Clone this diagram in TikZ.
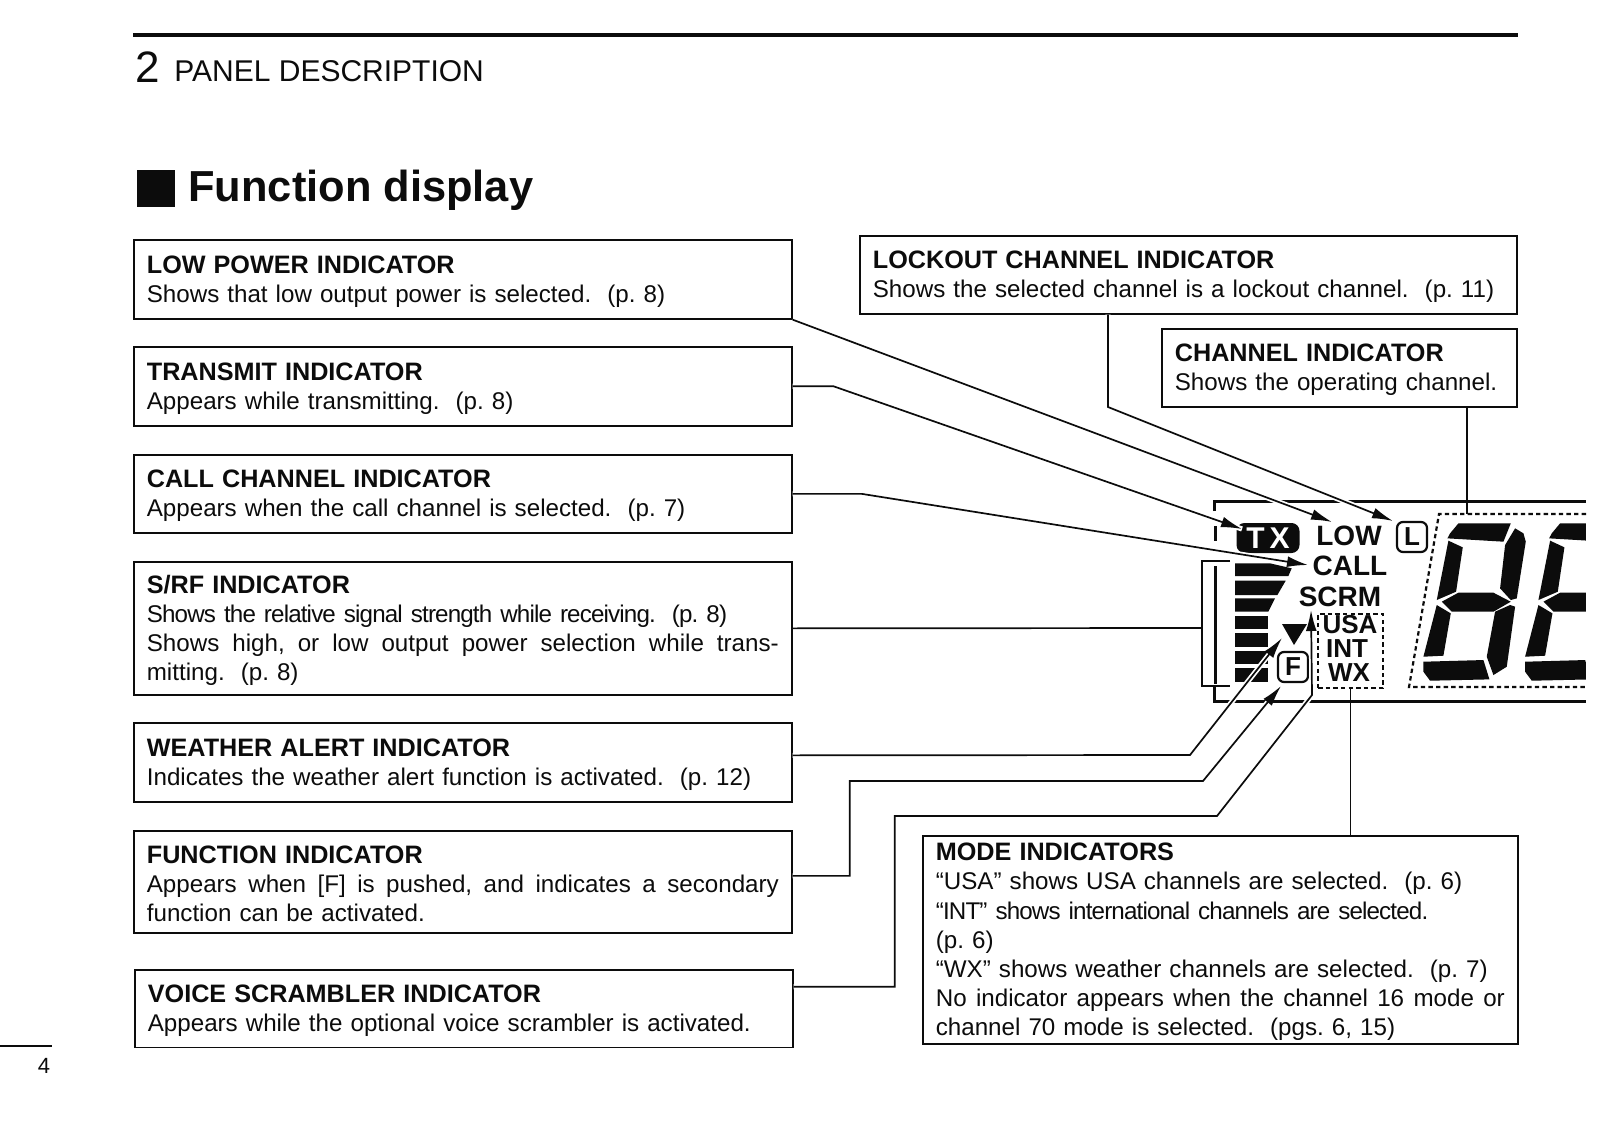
\documentclass[tikz,border=0pt]{standalone}
\usepackage{fontspec}
\setmainfont{Liberation Sans}
\usetikzlibrary{arrows.meta,positioning,shapes,calc}
\definecolor{ink}{HTML}{0C0C0C}
\definecolor{paper}{HTML}{FFFFFF}
\tikzset{
  infobox/.style={
    draw=ink, fill=paper, line width=0.85pt, anchor=north west,
    text width=#1, align=left, inner xsep=6.5pt, inner ysep=0pt,
    text=ink, font=\fontsize{12.08}{14.6}\selectfont\frenchspacing
  },
  conn/.style={draw=ink, line width=0.85pt},
  tipconn/.style={conn, -{Latex[length=10.5pt,width=5.4pt]},
    preaction={draw=paper, line width=2.6pt, arrows=-}},
  lcdlabel/.style={
    text=ink, inner sep=0pt, font=\bfseries\fontsize{14}{14}\selectfont
  },
  modelabel/.style={
    text=ink, inner sep=0pt, font=\bfseries\fontsize{13}{13}\selectfont
  },
  framebit/.style={draw=ink, line width=1.5pt},
  dotbox/.style={draw=ink, line width=1.1pt, dash pattern=on 2.2pt off 1.6pt},
  keycap/.style={
    draw=ink, line width=1.1pt, rounded corners=3pt, minimum size=15pt,
    inner sep=0pt, text=ink, font=\bfseries\fontsize{13}{13}\selectfont
  },
  seg/.style={fill=ink, draw=none}
}
\newcommand{\fullline}[2]{\leavevmode\hbox to #1{\spaceskip=0pt\xspaceskip=0pt #2}}
\newcommand{\boxhead}[1]{{\fontsize{12.6}{14.6}\selectfont\bfseries\rule{0pt}{11pt}#1}}
\newcommand{\tightline}[1]{{\addfontfeature{LetterSpace=-3.5}#1}}
\begin{document}
\begin{tikzpicture}[x=0.5pt,y=-0.5pt,>=Latex]
  \useasboundingbox[fill=paper] (0,0) rectangle (1598,1122);
  % page header
  \draw[ink, line width=1.7pt] (133,35) -- (1518,35);
  \node[anchor=base west, inner sep=0pt, text=ink, font=\fontsize{22}{22}\selectfont] (pagenum) at (135,83) {2};
  \node[anchor=base west, inner sep=0pt, text=ink, font=\fontsize{15}{15}\selectfont] (pagetitle) at (174,82) {PANEL DESCRIPTION};
  \node[fill=ink, anchor=north west, inner sep=0pt, minimum width=19pt, minimum height=18.5pt] (bullet) at (137,170) {};
  \node[anchor=base west, inner sep=0pt, text=ink, font=\bfseries\fontsize{21.7}{21.7}\selectfont] (heading) at (188,202) {Function display};
  \draw[ink, line width=0.7pt] (0,1046) -- (52,1046);
  \node[anchor=base, inner sep=0pt, text=ink, font=\fontsize{11}{11}\selectfont] (folio) at (44,1073) {4};

  % left column
  \node[infobox=316pt, minimum height=39.5pt] (lowbox) at (133,239)
    {\boxhead{LOW POWER INDICATOR}\\Shows that low output power is selected.\ \ (p. 8)};
  \node[infobox=316pt, minimum height=39.5pt] (txbox) at (133,346)
    {\boxhead{TRANSMIT INDICATOR}\\Appears while transmitting.\ \ (p. 8)};
  \node[infobox=316pt, minimum height=39pt] (callbox) at (133,454)
    {\boxhead{CALL CHANNEL INDICATOR}\\Appears when the call channel is selected.\ \ (p. 7)};
  \node[infobox=316pt, minimum height=66.5pt] (rfbox) at (133,561)
    {\boxhead{S/RF INDICATOR}\\\tightline{Shows the relative signal strength while receiving.\ \ (p. 8)}\\\fullline{316pt}{Shows high, or low output power selection while trans-}\\mitting.\ \ (p. 8)};
  \node[infobox=316pt, minimum height=39.5pt] (wxbox) at (133,722)
    {\boxhead{WEATHER ALERT INDICATOR}\\Indicates the weather alert function is activated.\ \ (p. 12)};
  \node[infobox=316pt, minimum height=51pt] (fnbox) at (133,830)
    {\boxhead{FUNCTION INDICATOR}\\\fullline{316pt}{Appears when [F] is pushed, and indicates a secondary}\\function can be activated.};
  \node[infobox=316pt, minimum height=38.8pt] (scrmbox) at (134,969)
    {\boxhead{VOICE SCRAMBLER INDICATOR}\\Appears while the optional voice scrambler is activated.};

  % right column
  \node[infobox=315.5pt, minimum height=39pt] (lockbox) at (859,235)
    {\boxhead{LOCKOUT CHANNEL INDICATOR}\\Shows the selected channel is a lockout channel.\ \ (p. 11)};
  \node[infobox=164.5pt, minimum height=39pt] (chanbox) at (1161,328)
    {\boxhead{CHANNEL INDICATOR}\\Shows the operating channel.};
  \node[infobox=284.5pt, minimum height=104pt] (modebox) at (922,835)
    {\boxhead{MODE INDICATORS}\\``USA'' shows USA channels are selected.\ \ (p. 6)\\\tightline{``INT'' shows international channels are selected.}\\(p. 6)\\``WX'' shows weather channels are selected.\ \ (p. 7)\\\fullline{284.5pt}{No indicator appears when the channel 16 mode or}\\channel 70 mode is selected.\ \ (pgs. 6, 15)};

  % lcd frame
  \draw[framebit] (1214,511) -- (1214,501) -- (1586,501);
  \draw[framebit] (1214,687) -- (1214,701) -- (1586,701);
  \draw[framebit] (1215,526) -- (1215,541);
  \draw[framebit] (1215,566) -- (1215,684);
  \draw[conn, line width=1pt] (1230,561) -- (1202,561) -- (1202,686) -- (1230,686);
  % signal bars
  \begin{scope}[shift={(1140,470)},x=0.1667pt,y=-0.1667pt]
    \fill[ink] (285,280) -- (390,280) -- (455,295) -- (445,318) -- (285,318) -- cycle;
    \fill[ink] (285,332) -- (437,332) -- (412,375) -- (285,375) -- cycle;
    \fill[ink] (285,385) -- (405,385) -- (385,425) -- (285,425) -- cycle;
    \foreach \bary in {438,490,543,595}
      \fill[ink] (285,\bary) rectangle (385,\bary+40);
    % digits
    \clip (800,100) rectangle (1337,700);
    \foreach \dx in {0,305}{
      \begin{scope}[xshift=\dx*0.1667pt]
        \fill[seg] (930,190) -- (955,160) -- (1112,160) -- (1090,215) -- (922,205) -- cycle;
        \fill[seg] (925,212) -- (968,232) -- (948,365) -- (890,390) -- cycle;
        \fill[seg] (1125,175) -- (1150,190) -- (1157,215) -- (1130,385) -- (1112,390) -- (1080,355) -- (1095,225) -- cycle;
        \fill[seg] (905,395) -- (955,368) -- (1060,368) -- (1112,395) -- (1060,425) -- (935,425) -- cycle;
        \fill[seg] (890,405) -- (932,430) -- (910,557) -- (850,560) -- cycle;
        \fill[seg] (1065,425) -- (1110,405) -- (1125,410) -- (1100,590) -- (1060,615) -- (1040,560) -- cycle;
        \fill[seg] (850,575) -- (1030,570) -- (1048,628) -- (870,632) -- (850,605) -- cycle;
      \end{scope}
    }
  \end{scope}
  \draw[dotbox] (1586,514) -- (1439,514) -- (1409,687) -- (1586,687);
  \node[dotbox, draw, anchor=north west, inner sep=0pt, minimum width=32.5pt, minimum height=37pt] (usabox) at (1317,613) {};
  \fill[ink] (1282,624) -- (1307,624) -- (1294,645) -- cycle;

  % lcd labels
  \node[fill=ink, rounded corners=4pt, inner sep=0pt, minimum width=31.5pt, minimum height=15pt, text=paper, font=\bfseries\fontsize{15}{15}\selectfont] (txlabel) at (1268,538) {T\,X};
  \node[lcdlabel] (lowlabel) at (1349,536) {LOW};
  \node[lcdlabel] (calllabel) at (1350,566) {CALL};
  \node[lcdlabel] (scrmlabel) at (1340,597) {SCRM};
  \node[modelabel] (usalabel) at (1350,625) {USA};
  \node[modelabel] (intlabel) at (1347,649) {INT};
  \node[modelabel] (wxlabel) at (1349,673) {WX};
  \node[keycap] (lkey) at (1412,537) {L};
  \node[keycap] (fkey) at (1293,667) {F};

  % arrow ends
  \coordinate (lowtip) at (1332,522);
  \coordinate (txtip) at (1242,529);
  \coordinate (calltip) at (1308,565);
  \coordinate (wxtip) at (1282,638);
  \coordinate (fntip) at (1281,686);
  \coordinate (scrmtip) at (1311,610);
  \coordinate (locktip) at (1393,521);
  \coordinate (lockknee) at (1108,407);
  \coordinate (chanend) at (1467,514);

  % connectors
  \draw[tipconn] (lowbox.south east) -- (lowtip);
  \draw[tipconn] (txbox.east) -- ++(41,0) -- (txtip);
  \draw[tipconn] (callbox.east) -- ++(69,0) -- (calltip);
  \draw[conn] (rfbox.east) -- (1202,628);
  \draw[tipconn] ([yshift=3.5pt]wxbox.east) -- (1190,755) -- (wxtip);
  \draw[tipconn] ([yshift=3pt]fnbox.east) -- ++(57,0) |- (1203,781) -- (fntip);
  \draw[tipconn] ([yshift=11pt]scrmbox.east) -- ++(101,0) |- (1217,816) -- (1312,695) -- (scrmtip);
  \draw[tipconn] (lockknee |- lockbox.south) -- (lockknee) -- (locktip);
  \draw[conn] (chanend |- chanbox.south) -- (chanend);
  \draw[conn] (usabox.south) -- (usabox.south |- modebox.north);
\end{tikzpicture}
\end{document}
